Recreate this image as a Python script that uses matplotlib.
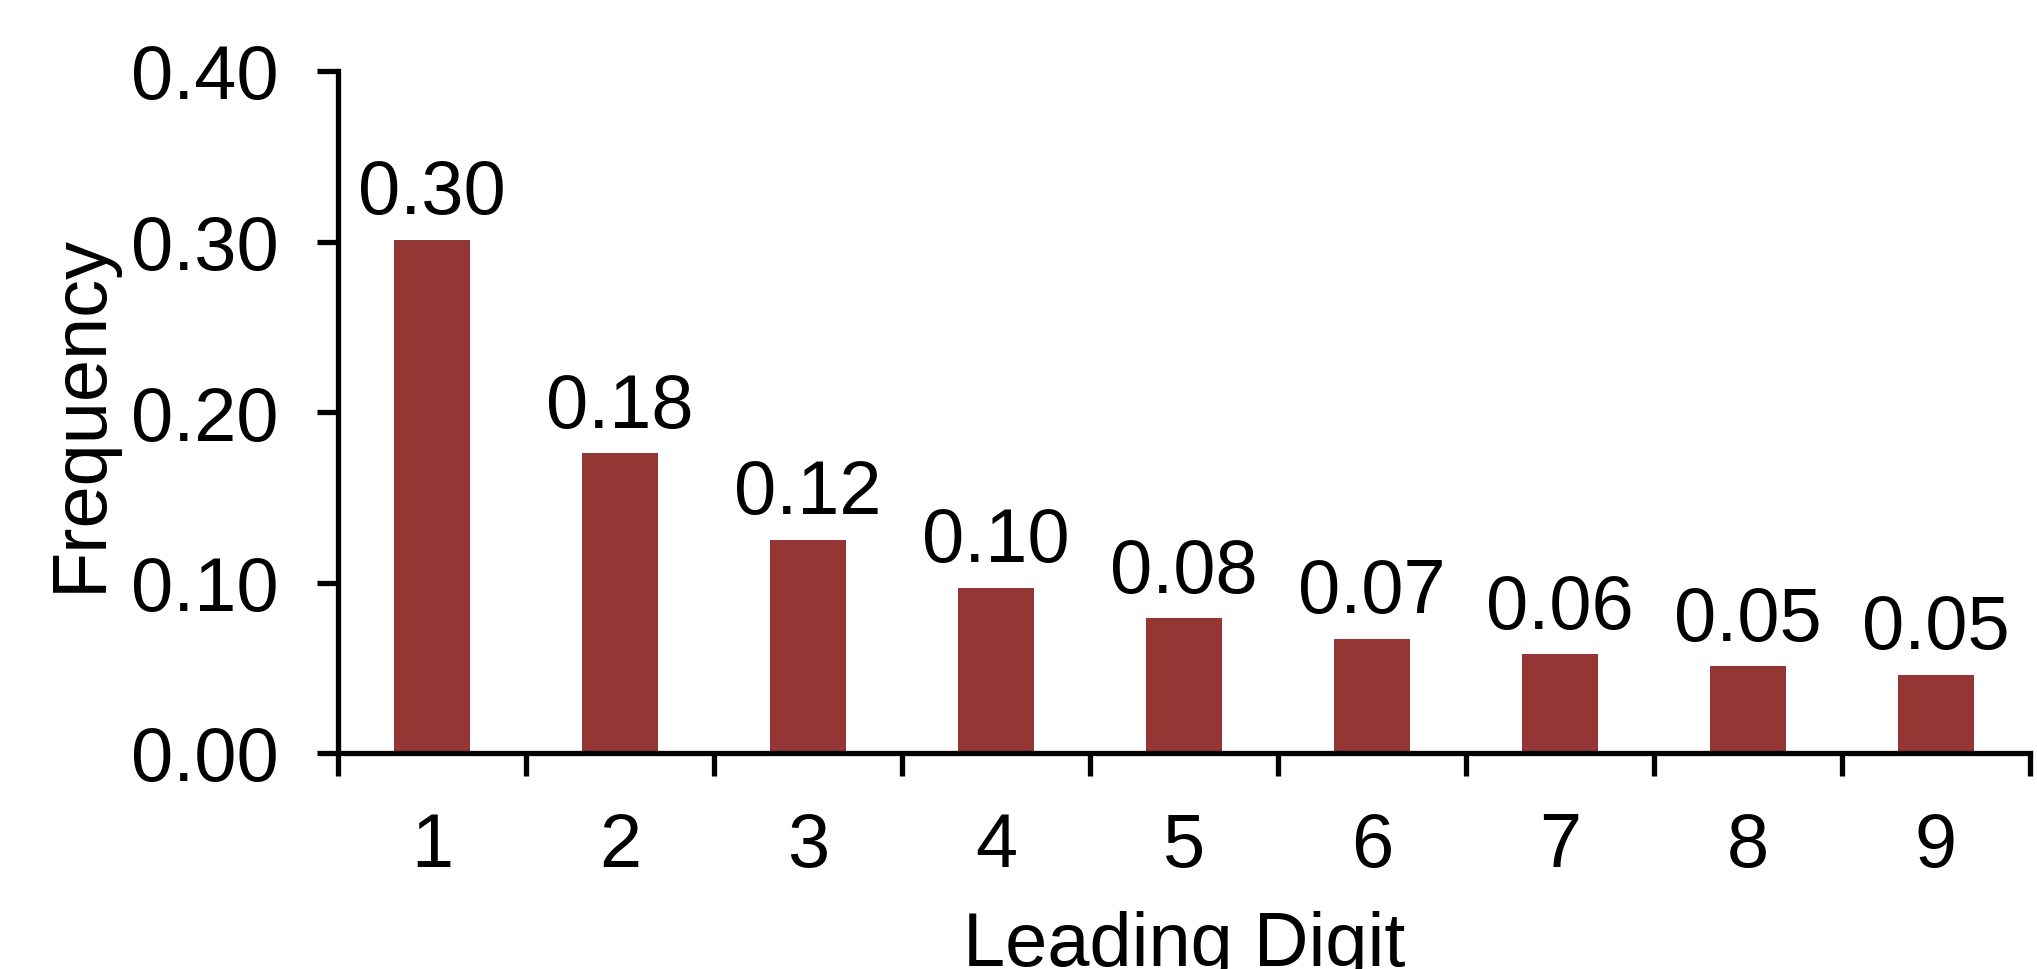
import matplotlib
matplotlib.use("Agg")
import matplotlib.pyplot as plt
from matplotlib.ticker import FixedLocator, NullFormatter, FixedFormatter

plt.rcParams['font.family'] = ['Liberation Sans', 'DejaVu Sans']

digits = [1, 2, 3, 4, 5, 6, 7, 8, 9]
digit_labels = ["1", "2", "3", "4", "5", "6", "7", "8", "9"]
frequency = [0.301, 0.176, 0.125, 0.097, 0.079, 0.067, 0.058, 0.051, 0.046]
y_ticks = [0.0, 0.1, 0.2, 0.3, 0.4]

bar_color = "#943634"
fs = 54.5
lw = 3.8

fig = plt.figure(figsize=(20.37, 9.70), dpi=100)
ax = fig.add_axes([338 / 2037, 1 - 754 / 970, (2030 - 338) / 2037, (754 - 72) / 970])

bars = ax.bar(digits, frequency, width=0.40, color=bar_color, zorder=2)
for b, v in zip(bars, frequency):
    ax.annotate(f"{v:.2f}", (b.get_x() + b.get_width() / 2, v),
                xytext=(0, 19), textcoords="offset points",
                ha="center", va="baseline", fontsize=fs)

ax.set_xlim(0.5, 9.5)
ax.set_ylim(0, 0.40)

# category boundaries get tick marks, category centres get the labels
ax.xaxis.set_major_locator(FixedLocator([d - 0.5 for d in digits] + [digits[-1] + 0.5]))
ax.xaxis.set_major_formatter(NullFormatter())
ax.xaxis.set_minor_locator(FixedLocator(digits))
ax.xaxis.set_minor_formatter(FixedFormatter(digit_labels))
ax.tick_params(axis="x", which="major", direction="out", length=16.5, width=lw)
ax.tick_params(axis="x", which="minor", length=0, pad=42, labelsize=fs)

ax.set_yticks(y_ticks)
ax.set_yticklabels([f"{t:.2f}" for t in y_ticks])
ax.tick_params(axis="y", direction="out", length=15, width=lw, pad=28, labelsize=fs)

for side in ("top", "right"):
    ax.spines[side].set_visible(False)
for side in ("left", "bottom"):
    ax.spines[side].set_linewidth(lw)

ax.set_xlabel("Leading Digit", fontsize=fs, labelpad=20)
ax.set_ylabel("Frequency", fontsize=fs, labelpad=10)

fig.savefig("out.png", dpi=100)
